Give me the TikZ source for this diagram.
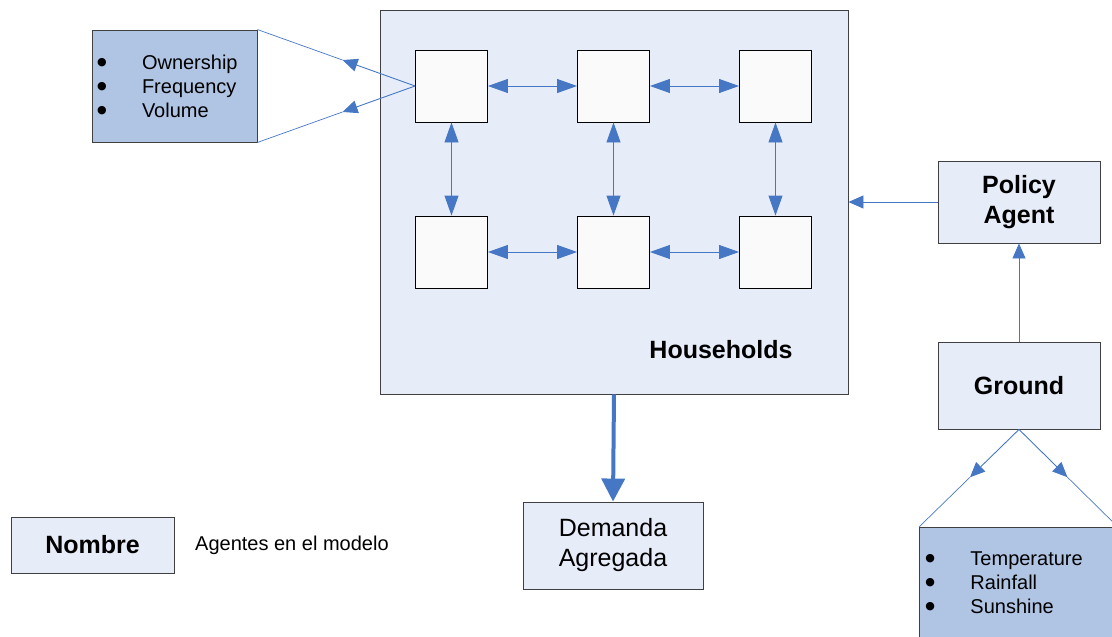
\documentclass[tikz,border=0pt]{standalone}
\usepackage{fontspec}
\setmainfont{Liberation Sans}
\newfontfamily\symfont{DejaVu Sans}
\usepackage{tikz}
\usetikzlibrary{arrows.meta,calc}
\definecolor{hhback}{HTML}{E7EDF8}
\definecolor{listblue}{HTML}{B0C4E4}
\definecolor{linkblue}{HTML}{4677C4}
\definecolor{edgegray}{HTML}{404040}
\newcommand{\bulletrow}{\makebox[45pt][l]{\raisebox{3.5pt}{\symfont\fontsize{11}{11}\selectfont ●}}}

\begin{document}
\begin{tikzpicture}[
    x=1pt, y=-1pt,
    agent/.style={rectangle, draw=edgegray, line width=0.9pt, fill=hhback, align=center, inner sep=0pt},
    hh/.style={rectangle, draw=black, line width=0.9pt, fill=white!98!black, minimum size=72pt, inner sep=0pt},
    listbox/.style={rectangle, draw=edgegray, line width=0.9pt, fill=listblue, align=left, font=\fontsize{20}{24}\selectfont},
    big/.style={font=\fontsize{25}{30}\selectfont\bfseries},
    plain/.style={font=\fontsize{25}{30}\selectfont},
    link/.style={draw=linkblue, line width=0.9pt, -{Triangle[length=15pt,width=13pt]}},
    mutual/.style={draw=linkblue, line width=0.9pt, {Triangle[length=20pt,width=14pt]}-{Triangle[length=20pt,width=14pt]}},
    wire/.style={draw=linkblue, line width=0.7pt}
]
\useasboundingbox (0,0) rectangle (1112,637);

\node[agent, minimum width=468pt, minimum height=384pt] (households) at (614,202) {};
\node[big] (hhlabel) at (721,350) {Households};
\foreach \c/\x in {1/451.5,2/613.5,3/775.5}
    \foreach \r/\y in {1/86,2/252}
        \node[hh] (h\r\c) at (\x,\y) {};
\foreach \r in {1,2} {
    \draw[mutual] (h\r1) -- (h\r2);
    \draw[mutual] (h\r2) -- (h\r3);
}
\foreach \c in {1,2,3}
    \draw[mutual] (h1\c) -- (h2\c);

\node[listbox, minimum width=165pt, minimum height=112pt, text width=155pt, inner xsep=5pt] (attrs) at (174.5,86)
    {\bulletrow Ownership\\ \bulletrow Frequency\\ \bulletrow Volume};
\draw[link] (h11.west) -- ($(h11.west)!0.46!(attrs.north east)$) coordinate (ownup);
\draw[wire] (ownup) -- (attrs.north east);
\draw[link] (h11.west) -- ($(h11.west)!0.46!(attrs.south east)$) coordinate (owndown);
\draw[wire] (owndown) -- (attrs.south east);

\node[agent, big, minimum width=162pt, minimum height=82pt] (policy) at (1019,202) {Policy\\Agent};
\node[agent, big, minimum width=162pt, minimum height=87pt] (ground) at (1019,385.5) {Ground};
\node[listbox, anchor=north west, text width=186pt, inner xsep=6pt, inner ysep=24pt] (weather) at (919,527)
    {\bulletrow Temperature\\ \bulletrow Rainfall\\ \bulletrow Sunshine\rule[-40pt]{0pt}{1pt}};
\draw[link] (policy.west) -- (households.east);
\draw[link] (ground.north) -- (policy.south);
\draw[link] (ground.south) -- ($(ground.south)!0.49!(weather.north west)$) coordinate (gleft);
\draw[wire] (gleft) -- (weather.north west);
\draw[link] (ground.south) -- ($(ground.south)!0.49!(weather.north east)$) coordinate (gright);
\draw[wire] (gright) -- (weather.north east);

\node[agent, plain, minimum width=180pt, minimum height=87pt] (demand) at (613,545.5) {Demanda\\Agregada};
\draw[draw=linkblue, line width=4pt, -{Triangle[length=23pt,width=23pt]}] (households.south) -- (demand.north);

\node[agent, big, minimum width=163pt, minimum height=56pt] (legend) at (92.5,545) {Nombre};
\node[anchor=west, inner sep=0pt, font=\fontsize{20}{24}\selectfont] (legendtext) at (195,545) {Agentes en el modelo};
\end{tikzpicture}
\end{document}
